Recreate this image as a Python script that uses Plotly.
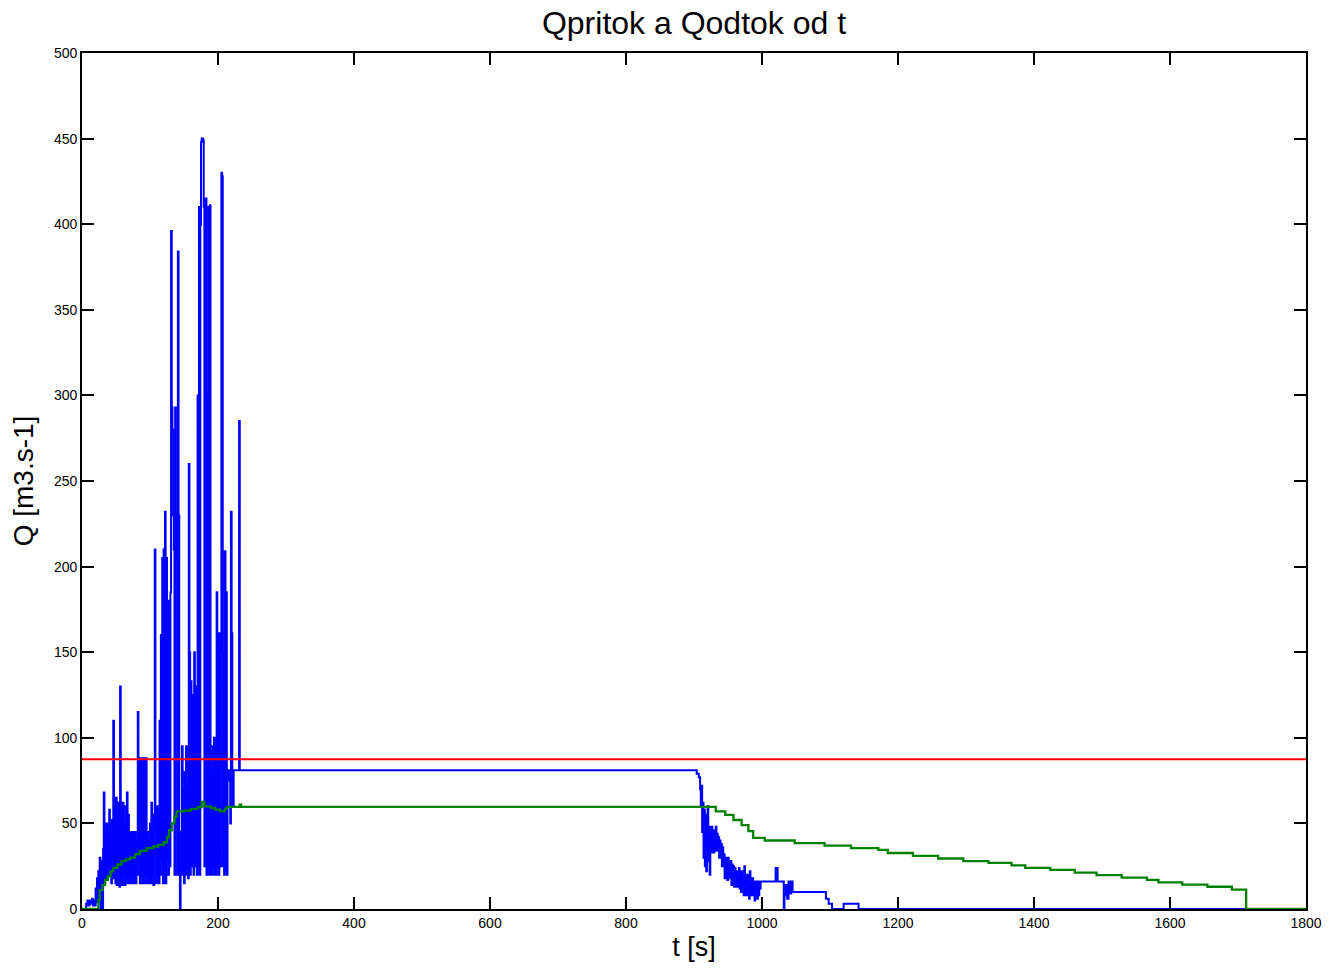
import plotly.graph_objects as go

# Inflow Q_pritok: spiky arrival phase, one sample per second from t = 0 s
t_rise = list(range(0, 233))
q_rise = [
    0, 0, 0, 0, 0, 0, 3, 3, 5, 2,
    2, 5, 5, 3, 4, 6, 2, 3, 5, 2,
    12, 4, 18, 8, 22, 6, 30, 0, 28, 10,
    0, 35, 68, 15, 45, 22, 50, 18, 45, 25,
    58, 20, 48, 15, 52, 30, 110, 18, 60, 15,
    65, 14, 58, 20, 62, 13, 130, 15, 55, 14,
    62, 20, 50, 14, 60, 18, 68, 15, 55, 20,
    45, 15, 45, 20, 45, 15, 45, 20, 45, 15,
    40, 20, 115, 30, 88, 15, 88, 20, 88, 15,
    88, 20, 88, 15, 88, 20, 45, 15, 40, 20,
    50, 15, 62, 20, 45, 14, 55, 210, 45, 15,
    60, 20, 55, 15, 110, 20, 160, 30, 205, 15,
    210, 25, 232, 15, 205, 30, 180, 20, 170, 25,
    185, 396, 293, 280, 230, 210, 20, 293, 230, 205,
    20, 384, 230, 20, 0, 45, 25, 95, 20, 70,
    15, 80, 20, 95, 25, 70, 18, 260, 150, 20,
    133, 25, 125, 104, 20, 150, 100, 25, 130, 20,
    300, 25, 410, 20, 400, 448, 450, 450, 449, 410,
    25, 405, 415, 20, 300, 25, 410, 20, 411, 20,
    80, 25, 95, 20, 100, 25, 95, 20, 185, 25,
    161, 20, 161, 25, 150, 430, 428, 25, 150, 20,
    209, 60, 185, 20, 75, 81, 81, 81, 50, 232,
    161, 81, 60, 81, 81, 81, 81, 81, 81, 81,
    81, 285, 81,
]

# Inflow recession after the steady plateau, one sample per second
t_fall = list(range(904, 1000))
q_fall = [
    79, 79, 79, 77, 77, 70, 60, 72, 45, 62,
    30, 58, 25, 55, 22, 50, 60, 28, 48, 20,
    45, 33, 48, 35, 46, 33, 45, 36, 48, 34,
    44, 36, 42, 30, 40, 33, 38, 25, 36, 28,
    32, 18, 30, 20, 28, 17, 30, 22, 26, 18,
    28, 14, 26, 16, 25, 13, 24, 15, 22, 13,
    20, 15, 24, 12, 20, 10, 22, 14, 18, 8,
    25, 10, 18, 8, 20, 12, 16, 6, 22, 10,
    14, 8, 18, 9, 15, 5, 16, 10, 14, 6,
    16, 8, 16, 12, 16, 16,
]

# Inflow tail: last small pulses until it dries up
t_tail = [1000, 1018, 1020, 1023, 1032, 1033, 1035, 1037, 1039, 1041,
          1043, 1045, 1090, 1094, 1098, 1103, 1120, 1142, 1800]
q_tail = [16, 16, 24, 16, 0, 8, 14, 6, 16, 9,
          16, 10, 10, 6, 3, 0, 3, 0, 0]

# Outflow Q_odtok (stepwise)
t_out = [
    0, 22, 24, 26, 30, 34, 38, 42, 46, 52,
    58, 64, 71, 78, 85, 95, 105, 112, 120, 125,
    128, 132, 136, 139, 150, 160, 170, 176, 180, 190,
    196, 203, 210, 213, 232, 234, 923, 932, 946, 958,
    970, 980, 987, 1004, 1048, 1092, 1131, 1171, 1185, 1222,
    1259, 1296, 1333, 1367, 1387, 1424, 1460, 1492, 1529, 1566,
    1583, 1618, 1655, 1691, 1712, 1800,
]
q_out = [
    0, 0, 5, 11, 14, 17, 19, 22, 24, 26,
    28, 29, 30, 32, 34, 35.5, 36.5, 37.5, 39, 42,
    46, 50, 54, 57, 57.5, 58.5, 59.5, 62.5, 60, 59,
    58, 57, 58.5, 59.6, 61, 59.6, 59.6, 57, 55, 52,
    49, 45.5, 41.5, 40, 38.5, 37, 35.5, 34.5, 32.7, 31,
    29.5, 28, 27, 25.5, 24, 22.8, 21.3, 19.8, 18.3, 17,
    15.5, 14.2, 13, 11.3, 0, 0,
]

# Limit discharge (constant)
t_lim = [0, 1800]
q_lim = [87.5, 87.5]

t_in = t_rise + t_fall + t_tail
q_in = q_rise + q_fall + q_tail

x_ticks = [0, 200, 400, 600, 800, 1000, 1200, 1400, 1600, 1800]
y_ticks = [0, 50, 100, 150, 200, 250, 300, 350, 400, 450, 500]

FONT = "Liberation Sans, Arial, sans-serif"

fig = go.Figure()
fig.add_trace(go.Scatter(x=t_in, y=q_in, mode="lines",
                         line=dict(color="rgb(0,0,255)", width=2,
                                   shape="hv", simplify=False),
                         name="Qpritok"))
fig.add_trace(go.Scatter(x=t_out, y=q_out, mode="lines",
                         line=dict(color="rgb(0,128,0)", width=2.3,
                                   shape="hv", simplify=False),
                         name="Qodtok"))
fig.add_trace(go.Scatter(x=t_lim, y=q_lim, mode="lines",
                         line=dict(color="rgb(255,0,0)", width=2),
                         name="Qlim"))

axis_common = dict(
    showline=True, linecolor="black", linewidth=1.6, mirror="ticks",
    ticks="inside", ticklen=12, tickwidth=1.6, tickcolor="black",
    showgrid=False, zeroline=False, automargin=False,
    tickfont=dict(family=FONT, size=14, color="black"),
)

fig.update_layout(
    width=1331, height=970,
    margin=dict(l=82, r=25, t=53, b=61),
    paper_bgcolor="white", plot_bgcolor="white",
    showlegend=False,
    title=dict(text="Qpritok a Qodtok od t", x=0.5, xref="paper",
               y=1 - 23 / 970, yref="container", yanchor="middle",
               xanchor="center",
               font=dict(family=FONT, size=32, color="black")),
    xaxis=dict(range=[0, 1800], tickvals=x_ticks,
               title=dict(text="t [s]", standoff=8,
                          font=dict(family=FONT, size=27, color="black")),
               **axis_common),
    yaxis=dict(range=[0, 500], tickvals=y_ticks,
               title=dict(text="Q [m3.s-1]", standoff=12,
                          font=dict(family=FONT, size=28, color="black")),
               **axis_common),
)

fig.write_html("out.html")
